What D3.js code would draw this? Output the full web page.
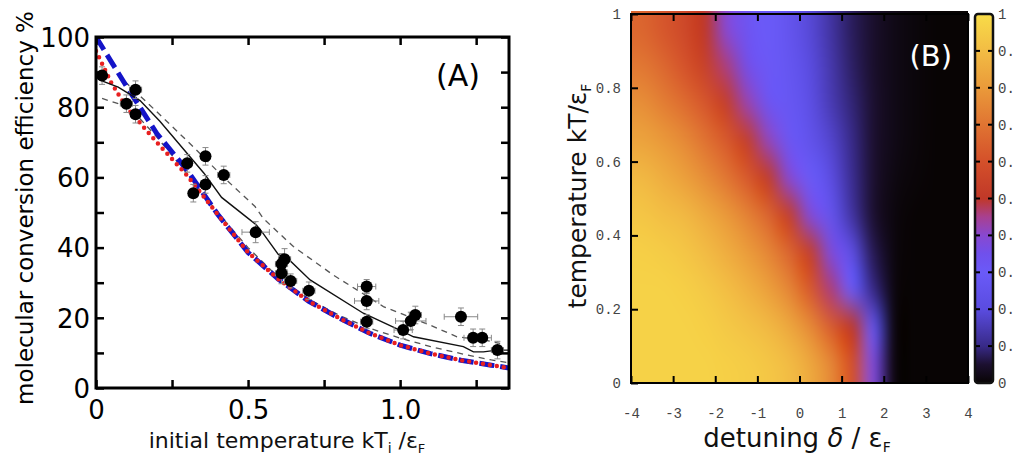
<!DOCTYPE html>
<html><head><meta charset="utf-8">
<script src="https://cdn.jsdelivr.net/npm/d3@7"></script>
<style>body{margin:0;background:#fff} svg{display:block}</style>
</head><body>
<svg width="1020" height="461"></svg>
<script>
// ---------- panel A : conversion efficiency vs initial temperature
var effTicks = d3.range(0, 101, 10);
var tempTicks = [0, 0.25, 0.5, 0.75, 1.0, 1.25];
var tempLabels = {0: "0", 0.5: "0.5", 1: "1.0"};

var pointT      = [0.02, 0.10, 0.13, 0.13, 0.30, 0.32, 0.36, 0.36, 0.42, 0.525, 0.61, 0.62, 0.61, 0.64, 0.70, 0.89, 0.89, 0.89, 1.01, 1.035, 1.05, 1.20, 1.24, 1.27, 1.32];
var pointEff    = [89, 81, 85, 78, 64, 55.5, 66, 58, 60.7, 44.4, 35.3, 36.7, 32.7, 30.5, 27.7, 28.9, 24.8, 18.9, 16.5, 19.1, 20.8, 20.3, 14.3, 14.3, 10.8];
var pointTErr   = [0.01, 0.02, 0.02, 0.015, 0.015, 0.01, 0.015, 0.015, 0.02, 0.045, 0.02, 0.02, 0.02, 0.02, 0.02, 0.03, 0.04, 0.02, 0.03, 0.05, 0.02, 0.055, 0.03, 0.03, 0.02];
var pointEffErr = [2.5, 2.5, 2.5, 2.5, 2.5, 2.5, 2.5, 2.5, 2.5, 3, 3, 3, 3, 2, 2.5, 2, 2.5, 2, 2.5, 2.5, 2.5, 2.5, 2.5, 2.5, 2.5];

var solidT   = [0.013, 0.073, 0.145, 0.21, 0.309, 0.355, 0.413, 0.496, 0.528, 0.55, 0.6, 0.627, 0.704, 0.879, 1.011, 1.044, 1.208, 1.241, 1.274, 1.318, 1.358];
var solidEff = [87.7, 85.7, 81.9, 76, 65.9, 61.2, 54.3, 48.6, 46.4, 44, 38, 37.2, 30.8, 21.3, 16.0, 14.6, 11.8, 10.3, 10.3, 10.8, 10.8];

var upperT   = [0.095, 0.2, 0.32, 0.42, 0.523, 0.55, 0.649, 0.78, 0.945, 1.099, 1.187, 1.274, 1.329];
var upperEff = [87.3, 78.7, 68.7, 60, 51.7, 48.3, 40.3, 32.2, 23.2, 17.9, 14.6, 13.7, 12.7];

var lowerT   = [0.02, 0.11, 0.2, 0.3, 0.4, 0.5, 0.6, 0.7, 0.8, 0.9, 1.0, 1.1, 1.2, 1.3, 1.358];
var lowerEff = [82.5, 80, 71.5, 61, 50, 40, 31.5, 25.3, 20.7, 17, 14.2, 11.8, 9.8, 8, 7.2];

var blueT   = [0, 0.05, 0.1, 0.2, 0.3, 0.4, 0.5, 0.6, 0.7, 0.8, 0.9, 1.0, 1.1, 1.2, 1.3, 1.358];
var blueEff = [100, 93, 86, 72.5, 62, 49.5, 38.6, 31, 24.7, 19.9, 15.6, 12.2, 9.8, 7.9, 6.5, 5.7];

var redT   = [0, 0.05, 0.1, 0.2, 0.3, 0.4, 0.5, 0.6, 0.7, 0.8, 0.9, 1.0, 1.1, 1.2, 1.3, 1.358];
var redEff = [96, 87, 80, 70, 60.5, 49.5, 38.6, 31, 24.7, 19.9, 15.6, 12.2, 9.8, 7.9, 6.5, 5.7];

// ---------- panel B : map over detuning and temperature
var detuning = [-3.75, -3.25, -2.75, -2.25, -1.75, -1.25, -0.75, -0.25, 0.25, 0.75, 1.25, 1.75, 2.25, 2.75, 3.25, 3.75];
var tempB = [0.05, 0.15, 0.25, 0.35, 0.45, 0.55, 0.65, 0.75, 0.85, 0.95];
var heat = [
  [0.97,0.97,0.97,0.97,0.96,0.95,0.93,0.90,0.84,0.75,0.60,0.38,0.01,0,0,0],
  [0.97,0.97,0.97,0.96,0.94,0.92,0.89,0.84,0.76,0.64,0.50,0.27,0.01,0,0,0],
  [0.97,0.97,0.96,0.94,0.91,0.87,0.82,0.75,0.63,0.46,0.30,0.10,0.01,0,0,0],
  [0.96,0.95,0.93,0.90,0.86,0.81,0.75,0.66,0.53,0.38,0.22,0.07,0.01,0,0,0],
  [0.93,0.91,0.89,0.85,0.80,0.74,0.66,0.53,0.39,0.26,0.13,0.05,0.01,0,0,0],
  [0.89,0.86,0.82,0.77,0.71,0.63,0.52,0.40,0.30,0.21,0.11,0.05,0.015,0.005,0,0],
  [0.83,0.80,0.76,0.70,0.63,0.53,0.42,0.32,0.25,0.18,0.10,0.05,0.02,0.007,0,0],
  [0.77,0.73,0.68,0.62,0.53,0.43,0.33,0.28,0.22,0.15,0.09,0.05,0.02,0.008,0,0],
  [0.71,0.67,0.61,0.54,0.46,0.36,0.31,0.27,0.20,0.14,0.08,0.045,0.02,0.008,0,0],
  [0.66,0.62,0.57,0.50,0.40,0.33,0.30,0.26,0.19,0.13,0.075,0.045,0.02,0.008,0,0]
];
var cmapStops  = [0, 0.05, 0.1, 0.2, 0.3, 0.35, 0.4, 0.45, 0.5, 0.6, 0.7, 0.8, 0.9, 1];
var cmapColors = ["#080404", "#1c1030", "#382a88", "#5a4ce0", "#6a5af8", "#7050ec", "#8848d0", "#a84090", "#c03828", "#d4502a", "#e07432", "#ea9a3a", "#f2bc44", "#f8dc48"];
var detTicks = d3.range(-4, 5, 1);
var tempBTicks = [0, 0.2, 0.4, 0.6, 0.8, 1];
var barTicks = d3.range(0, 11).map(function(i){ return i / 10; });

var svg = d3.select("svg");

// ================= panel A =================
var xA = d3.scaleLinear().domain([0, 1.358]).range([96, 509]);
var yA = d3.scaleLinear().domain([0, 100]).range([388, 37]);

svg.append("clipPath").attr("id", "clipA").append("rect")
  .attr("x", 96).attr("y", 37).attr("width", 413).attr("height", 351);

var gA = svg.append("g");
var plotA = gA.append("g").attr("clip-path", "url(#clipA)");

function curve(xs, ys) {
  return d3.line().x(function(d){ return xA(d); }).y(function(d, i){ return yA(ys[i]); })(xs);
}

plotA.append("path").attr("d", curve(upperT, upperEff))
  .attr("fill", "none").attr("stroke", "#555").attr("stroke-width", 1.3).attr("stroke-dasharray", "6,5");
plotA.append("path").attr("d", curve(lowerT, lowerEff))
  .attr("fill", "none").attr("stroke", "#555").attr("stroke-width", 1.3).attr("stroke-dasharray", "6,5");
plotA.append("path").attr("d", curve(blueT, blueEff))
  .attr("fill", "none").attr("stroke", "#1414c8").attr("stroke-width", 5).attr("stroke-dasharray", "15,6");
plotA.append("path").attr("d", curve(redT, redEff))
  .attr("fill", "none").attr("stroke", "#e82020").attr("stroke-width", 4.5)
  .attr("stroke-linecap", "round").attr("stroke-dasharray", "0,7");
plotA.append("path").attr("d", curve(solidT, solidEff))
  .attr("fill", "none").attr("stroke", "#111").attr("stroke-width", 1.4);

// error bars
var eb = plotA.append("g").attr("stroke", "#888").attr("stroke-width", 1);
pointT.forEach(function(t, i) {
  var cx = xA(t), cy = yA(pointEff[i]);
  var y0 = yA(pointEff[i] - pointEffErr[i]), y1 = yA(pointEff[i] + pointEffErr[i]);
  var x0 = xA(t - pointTErr[i]), x1 = xA(t + pointTErr[i]);
  eb.append("line").attr("x1", cx).attr("x2", cx).attr("y1", y0).attr("y2", y1);
  eb.append("line").attr("x1", cx - 3).attr("x2", cx + 3).attr("y1", y0).attr("y2", y0);
  eb.append("line").attr("x1", cx - 3).attr("x2", cx + 3).attr("y1", y1).attr("y2", y1);
  eb.append("line").attr("x1", x0).attr("x2", x1).attr("y1", cy).attr("y2", cy);
  eb.append("line").attr("x1", x0).attr("x2", x0).attr("y1", cy - 3).attr("y2", cy + 3);
  eb.append("line").attr("x1", x1).attr("x2", x1).attr("y1", cy - 3).attr("y2", cy + 3);
});

plotA.selectAll("circle.pt").data(pointT).join("circle")
  .attr("class", "pt")
  .attr("cx", function(d){ return xA(d); })
  .attr("cy", function(d, i){ return yA(pointEff[i]); })
  .attr("r", 6).attr("fill", "#000");

// axes (inward ticks)
var fontA = "DejaVu Sans, sans-serif";
var axL = gA.append("g").attr("transform", "translate(96,0)")
  .call(d3.axisLeft(yA).tickValues(effTicks).tickSize(-8).tickPadding(6)
    .tickFormat(function(d){ return d % 20 === 0 ? d : ""; }));
var axR = gA.append("g").attr("transform", "translate(509,0)")
  .call(d3.axisRight(yA).tickValues(effTicks).tickSize(-8).tickFormat(""));
var axB = gA.append("g").attr("transform", "translate(0,388)")
  .call(d3.axisBottom(xA).tickValues(tempTicks).tickSize(-8).tickPadding(13)
    .tickFormat(function(d){ return tempLabels[d] || ""; }));
var axT = gA.append("g").attr("transform", "translate(0,37)")
  .call(d3.axisTop(xA).tickValues(tempTicks).tickSize(-8).tickFormat(""));
[axL, axR, axB, axT].forEach(function(a) {
  a.select(".domain").remove();
  a.selectAll(".tick line").attr("stroke", "#000").attr("stroke-width", 2.5);
  a.selectAll("text").attr("font-family", fontA).attr("font-size", 26).attr("fill", "#000");
});
axL.selectAll("text").attr("dy", "0.36em");

gA.append("rect").attr("x", 96).attr("y", 37).attr("width", 413).attr("height", 351)
  .attr("fill", "none").attr("stroke", "#000").attr("stroke-width", 3);

gA.append("text").attr("x", 480).attr("y", 86).attr("text-anchor", "end")
  .attr("font-family", fontA).attr("font-size", 30).text("(A)");

gA.append("text").attr("transform", "translate(33,208) rotate(-90)")
  .attr("text-anchor", "middle").attr("font-family", fontA).attr("font-size", 23)
  .text("molecular conversion efficiency %");

var xl = gA.append("text").attr("x", 287).attr("y", 448).attr("text-anchor", "middle")
  .attr("font-family", fontA).attr("font-size", 22).attr("fill", "#111");
xl.append("tspan").text("initial temperature kT");
xl.append("tspan").attr("font-size", 14).attr("dy", 5).text("i");
xl.append("tspan").attr("dy", -5).text(" /ε");
xl.append("tspan").attr("font-size", 13).attr("dy", 5).text("F");

// ================= panel B =================
var xB = d3.scaleLinear().domain([-4, 4]).range([631, 968]);
var yB = d3.scaleLinear().domain([0, 1]).range([383, 14]);
var color = d3.scaleLinear().domain(cmapStops).range(cmapColors).interpolate(d3.interpolateRgb).clamp(true);

// one canvas pixel per cell ...
var cv = document.createElement("canvas");
cv.width = detuning.length; cv.height = tempB.length;
var ctx = cv.getContext("2d");
var img = ctx.createImageData(cv.width, cv.height);
heat.forEach(function(row, r) {
  var py = tempB.length - 1 - r;
  row.forEach(function(v, c) {
    var col = d3.rgb(color(v));
    var k = (py * cv.width + c) * 4;
    img.data[k] = col.r; img.data[k + 1] = col.g; img.data[k + 2] = col.b; img.data[k + 3] = 255;
  });
});
ctx.putImageData(img, 0, 0);

// ... then blown up to the plot size with high quality smoothing
var W = Math.round(xB(4) - xB(-4)), H = Math.round(yB(0) - yB(1));
var big = document.createElement("canvas");
big.width = W; big.height = H;
var bctx = big.getContext("2d");
bctx.imageSmoothingEnabled = true;
bctx.imageSmoothingQuality = "high";
bctx.drawImage(cv, 0, 0, W, H);

var gB = svg.append("g");
gB.append("image").attr("href", big.toDataURL())
  .attr("x", xB(-4)).attr("y", yB(1) - 3)
  .attr("width", W).attr("height", H + 3)
  .attr("preserveAspectRatio", "none");

var fontB = "Liberation Mono, DejaVu Sans Mono, monospace";
var bxB = gB.append("g").attr("transform", "translate(0,383)")
  .call(d3.axisBottom(xB).tickValues(detTicks).tickSize(-7).tickPadding(25)
    .tickFormat(function(d){ return d < 0 ? "-" + (-d) : d; }));
var bxT = gB.append("g").attr("transform", "translate(0,14)")
  .call(d3.axisTop(xB).tickValues(detTicks).tickSize(-7).tickFormat(""));
var byL = gB.append("g").attr("transform", "translate(631,0)")
  .call(d3.axisLeft(yB).tickValues(tempBTicks).tickSize(-7).tickPadding(10)
    .tickFormat(function(d){ return (d === 0 || d === 1) ? d : d.toFixed(1); }));
[bxB, bxT, byL].forEach(function(a) {
  a.select(".domain").remove();
  a.selectAll(".tick line").attr("stroke", "#000").attr("stroke-width", 2);
  a.selectAll("text").attr("font-family", fontB).attr("font-size", 14).attr("fill", "#444");
});

gB.append("rect").attr("x", 631).attr("y", 14).attr("width", 337).attr("height", 369)
  .attr("fill", "none").attr("stroke", "#000").attr("stroke-width", 2);

gB.append("text").attr("x", 952).attr("y", 66).attr("text-anchor", "end")
  .attr("font-family", fontA).attr("font-size", 29).attr("fill", "#fff").text("(B)");

var yl = gB.append("text").attr("transform", "translate(586,196) rotate(-90)")
  .attr("text-anchor", "middle").attr("font-family", fontA).attr("font-size", 25).attr("fill", "#111");
yl.append("tspan").text("temperature kT/ε");
yl.append("tspan").attr("font-size", 14).attr("dy", 5).text("F");

var dl = gB.append("text").attr("x", 797).attr("y", 447).attr("text-anchor", "middle")
  .attr("font-family", fontA).attr("font-size", 26).attr("fill", "#111");
dl.append("tspan").text("detuning ");
dl.append("tspan").attr("font-style", "italic").text("δ");
dl.append("tspan").text(" / ε");
dl.append("tspan").attr("font-size", 14).attr("dy", 5).text("F");

// colour bar
var grad = svg.append("defs").append("linearGradient").attr("id", "cbar")
  .attr("x1", 0).attr("y1", 1).attr("x2", 0).attr("y2", 0);
grad.selectAll("stop").data(cmapStops).join("stop")
  .attr("offset", function(d){ return d; })
  .attr("stop-color", function(d, i){ return cmapColors[i]; });

gB.append("rect").attr("x", 975).attr("y", yB(1)).attr("width", 18).attr("height", yB(0) - yB(1))
  .attr("rx", 3).attr("fill", "url(#cbar)").attr("stroke", "#111").attr("stroke-width", 2.5);

var inner = barTicks.slice(1, -1);
gB.append("g").selectAll("line.l").data(inner).join("line")
  .attr("x1", 976).attr("x2", 980).attr("y1", function(d){ return yB(d); }).attr("y2", function(d){ return yB(d); })
  .attr("stroke", "#000").attr("stroke-width", 2);
gB.append("g").selectAll("line.r").data(inner).join("line")
  .attr("x1", 988).attr("x2", 992).attr("y1", function(d){ return yB(d); }).attr("y2", function(d){ return yB(d); })
  .attr("stroke", "#000").attr("stroke-width", 2);

// the reference picture is cropped just right of the bar labels
svg.append("clipPath").attr("id", "clipBar").append("rect")
  .attr("x", 995).attr("y", 0).attr("width", 18).attr("height", 461);
gB.append("g").attr("clip-path", "url(#clipBar)")
  .selectAll("text").data(barTicks).join("text")
  .attr("x", 998).attr("y", function(d){ return yB(d); }).attr("dy", "0.36em")
  .attr("font-family", fontB).attr("font-size", 14).attr("fill", "#444")
  .text(function(d){ return (d === 0 || d === 1) ? d : d.toFixed(1); });
</script>
</body></html>
